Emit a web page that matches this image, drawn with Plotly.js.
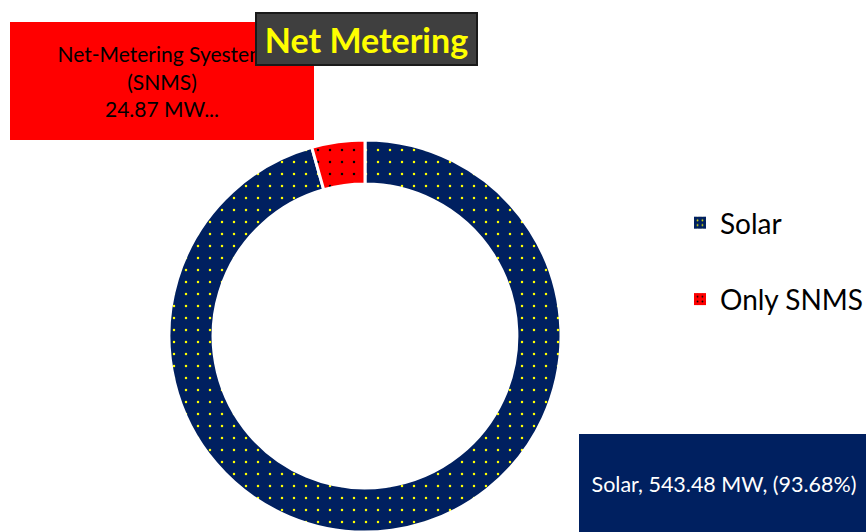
<!DOCTYPE html>
<html>
<head>
<meta charset="utf-8">
<script src="https://cdn.plot.ly/plotly-3.0.1.min.js"></script>
<style>html,body{margin:0;padding:0;background:#fff;}#chart{width:866px;height:532px;}</style>
</head>
<body>
<div id="chart"></div>
<script>
// ---- data ----
const labels = ["Solar", "Only SNMS"];
const values = [543.48, 24.87];
const calloutNames = ["Solar", "Net-Metering Syestem (SNMS)"];
const percents = [93.68, null];
const colors = ["#002060", "#FF0000"];
const dotColors = ["#FFFF00", "#000000"];
const titleText = "Net Metering";

const FONT = "Lato, 'Open Sans', sans-serif";

const pie = {
  type: "pie",
  labels: labels,
  values: values,
  sort: false,
  direction: "clockwise",
  rotation: 0,
  hole: 0.775,
  textinfo: "none",
  hoverinfo: "label+value",
  showlegend: false,
  domain: {x: [169/866, 561/866], y: [0, 1 - 140/532]},
  marker: {
    colors: colors,
    line: {color: "#ffffff", width: 3},
    pattern: {shape: ".", fgcolor: dotColors, bgcolor: colors, fgopacity: 1, size: 12, solidity: 0.035, fillmode: "overlay"}
  }
};

// legend entries (swatches only; null values draw no bar)
const legendTraces = labels.map((lab, i) => ({
  type: "bar",
  x: [lab], y: [null],
  name: lab,
  legendgroup: "g" + i,
  showlegend: true,
  hoverinfo: "skip",
  marker: {color: colors[i], pattern: {shape: ".", fgcolor: dotColors[i], bgcolor: colors[i], fgopacity: 1, size: 6, solidity: 0.1}}
}));

const solarText = `${calloutNames[0]}, ${values[0]} MW, (${percents[0].toFixed(2)}%)`;
const snmsText = `${calloutNames[1].replace(" (", "<br>(")}<br>${values[1]} MW...`;

const layout = {
  width: 866, height: 532,
  margin: {l: 0, r: 0, t: 0, b: 0, autoexpand: false},
  paper_bgcolor: "#ffffff",
  plot_bgcolor: "rgba(0,0,0,0)",
  font: {family: FONT, color: "#000"},
  xaxis: {visible: false, domain: [0.99, 1], fixedrange: true},
  yaxis: {visible: false, domain: [0.99, 1], fixedrange: true},
  showlegend: true,
  legend: {
    x: 680/866, xanchor: "left",
    y: 1 - 198/532, yanchor: "top",
    font: {family: FONT, size: 28, color: "#000"},
    tracegroupgap: 37,
    itemwidth: 30,
    bgcolor: "rgba(0,0,0,0)"
  },
  annotations: [
    {
      xref: "paper", yref: "paper",
      x: 162/866, y: 1 - 81/532, xanchor: "center", yanchor: "middle",
      text: snmsText, showarrow: false,
      font: {family: FONT, size: 21, color: "#000"},
      bgcolor: "#FF0000", width: 304, height: 118, borderpad: 0, borderwidth: 0,
      align: "center"
    },
    {
      xref: "paper", yref: "paper",
      x: 724/866, y: 1 - 484/532, xanchor: "center", yanchor: "middle",
      text: solarText, showarrow: false,
      font: {family: FONT, size: 21.5, color: "#ffffff"},
      bgcolor: "#002060", width: 290, height: 100, borderpad: 0, borderwidth: 0,
      align: "center"
    },
    {
      xref: "paper", yref: "paper",
      x: 366/866, y: 1 - 39/532, xanchor: "center", yanchor: "middle",
      text: "<b>" + titleText + "</b>", showarrow: false,
      font: {family: FONT, size: 34, color: "#FFFF00"},
      bgcolor: "#3f3f3f", bordercolor: "#1a1a1a", borderwidth: 2,
      width: 219, height: 50, borderpad: 0
    }
  ]
};

Plotly.newPlot("chart", [pie].concat(legendTraces), layout, {displayModeBar: false, staticPlot: true});
</script>
</body>
</html>
